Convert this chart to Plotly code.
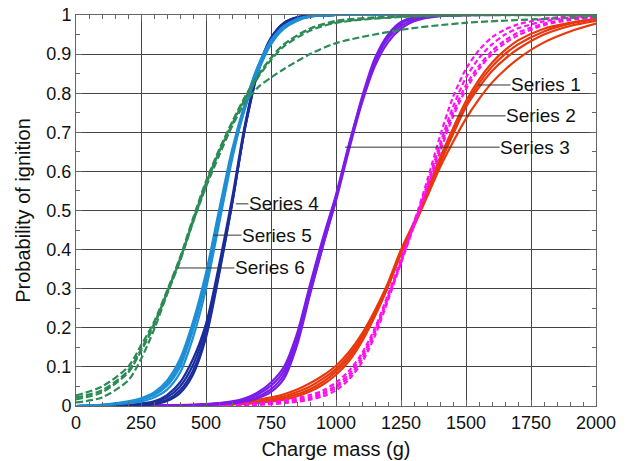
import plotly.graph_objects as go

# ---------------- data ----------------
# Series 1 (red, solid)
s1_x = [0, 500, 600, 700, 800, 850, 900, 950, 1000, 1050, 1100, 1150, 1200, 1250, 1300, 1350,
        1400, 1450, 1500, 1550, 1600, 1650, 1700, 1800, 1900, 2000]
s1_a = [0.0, 0.004, 0.008, 0.016, 0.03, 0.042, 0.058, 0.078, 0.103, 0.138, 0.185, 0.245, 0.315, 0.4,
        0.47, 0.55, 0.635, 0.71, 0.78, 0.835, 0.878, 0.91, 0.935, 0.965, 0.98, 0.99]
s1_b = [0.0, 0.003, 0.006, 0.012, 0.025, 0.036, 0.05, 0.07, 0.095, 0.13, 0.178, 0.24, 0.31, 0.395,
        0.465, 0.54, 0.62, 0.695, 0.765, 0.815, 0.857, 0.888, 0.913, 0.95, 0.972, 0.985]
s1_c = [0.0, 0.003, 0.005, 0.01, 0.02, 0.03, 0.043, 0.062, 0.088, 0.123, 0.172, 0.235, 0.307, 0.39,
        0.46, 0.535, 0.61, 0.675, 0.735, 0.785, 0.827, 0.86, 0.888, 0.93, 0.958, 0.978]
s1_d = [0.0, 0.002, 0.004, 0.008, 0.016, 0.025, 0.037, 0.055, 0.08, 0.115, 0.165, 0.23, 0.305, 0.39,
        0.465, 0.545, 0.625, 0.7, 0.77, 0.825, 0.868, 0.9, 0.925, 0.958, 0.978, 0.99]

# Series 2 (magenta, dashed)
s2_x = [0, 600, 700, 800, 900, 950, 1000, 1050, 1100, 1150, 1200, 1250, 1300, 1350, 1400, 1450,
        1500, 1550, 1600, 1650, 1700, 1800, 1900, 2000]
s2_a = [0.0, 0.003, 0.007, 0.014, 0.028, 0.04, 0.06, 0.09, 0.135, 0.2, 0.285, 0.375, 0.47, 0.575,
        0.69, 0.79, 0.862, 0.91, 0.943, 0.963, 0.976, 0.99, 0.997, 1.0]
s2_b = [0.0, 0.002, 0.005, 0.011, 0.023, 0.034, 0.052, 0.082, 0.128, 0.195, 0.28, 0.37, 0.465, 0.565,
        0.67, 0.765, 0.84, 0.89, 0.925, 0.95, 0.966, 0.984, 0.994, 0.998]
s2_c = [0.0, 0.002, 0.004, 0.009, 0.02, 0.03, 0.047, 0.075, 0.12, 0.188, 0.275, 0.368, 0.463, 0.56,
        0.66, 0.75, 0.82, 0.87, 0.908, 0.935, 0.955, 0.978, 0.99, 0.996]
s2_d = [0.0, 0.001, 0.003, 0.007, 0.016, 0.025, 0.04, 0.068, 0.112, 0.18, 0.27, 0.365, 0.46, 0.555,
        0.65, 0.74, 0.81, 0.862, 0.9, 0.928, 0.948, 0.974, 0.987, 0.994]

# Series 3 (purple, solid)
s3_x = [0, 400, 500, 600, 650, 700, 750, 800, 850, 900, 950, 1000, 1050, 1100, 1150, 1200, 1250,
        1300, 1400, 2000]
s3_a = [0.0, 0.002, 0.005, 0.012, 0.02, 0.035, 0.06, 0.1, 0.185, 0.31, 0.43, 0.54, 0.67, 0.785,
        0.885, 0.945, 0.978, 0.992, 0.999, 1.0]
s3_b = [0.0, 0.001, 0.004, 0.01, 0.017, 0.03, 0.052, 0.09, 0.175, 0.3, 0.42, 0.535, 0.665, 0.78,
        0.88, 0.94, 0.972, 0.988, 0.998, 1.0]
s3_c = [0.0, 0.001, 0.003, 0.008, 0.013, 0.024, 0.043, 0.08, 0.165, 0.29, 0.41, 0.525, 0.655, 0.775,
        0.87, 0.93, 0.965, 0.984, 0.997, 1.0]
s3_d = [0.0, 0.001, 0.003, 0.007, 0.012, 0.02, 0.036, 0.07, 0.155, 0.285, 0.41, 0.53, 0.665, 0.79,
        0.89, 0.95, 0.982, 0.994, 0.999, 1.0]

# Series 4 (navy, solid)
s4_x = [0, 200, 300, 350, 400, 450, 500, 550, 600, 650, 700, 750, 800, 850, 900, 1000, 2000]
s4_a = [0.0, 0.003, 0.012, 0.028, 0.06, 0.12, 0.21, 0.36, 0.53, 0.72, 0.86, 0.94, 0.978, 0.993,
        0.998, 1.0, 1.0]
s4_b = [0.0, 0.002, 0.009, 0.022, 0.05, 0.105, 0.2, 0.35, 0.52, 0.71, 0.855, 0.938, 0.977, 0.992,
        0.998, 1.0, 1.0]
s4_c = [0.0, 0.001, 0.006, 0.016, 0.04, 0.09, 0.185, 0.34, 0.515, 0.71, 0.855, 0.94, 0.98, 0.994,
        0.999, 1.0, 1.0]
s4_d = [0.0, 0.001, 0.005, 0.013, 0.033, 0.08, 0.175, 0.335, 0.515, 0.715, 0.86, 0.942, 0.98, 0.994,
        0.999, 1.0, 1.0]

# Series 5 (light blue, solid)
s5_x = [0, 100, 200, 250, 300, 350, 400, 450, 500, 550, 600, 650, 700, 750, 800, 850, 900, 1000, 2000]
s5_a = [0.0, 0.003, 0.012, 0.02, 0.035, 0.065, 0.12, 0.215, 0.34, 0.5, 0.655, 0.775, 0.87, 0.935,
        0.97, 0.988, 0.996, 1.0, 1.0]
s5_b = [0.0, 0.002, 0.009, 0.016, 0.028, 0.052, 0.1, 0.195, 0.32, 0.485, 0.645, 0.77, 0.868, 0.935,
        0.972, 0.99, 0.997, 1.0, 1.0]
s5_c = [0.0, 0.002, 0.007, 0.012, 0.022, 0.042, 0.085, 0.175, 0.3, 0.465, 0.63, 0.765, 0.865, 0.932,
        0.97, 0.988, 0.996, 1.0, 1.0]
s5_d = [0.0, 0.003, 0.01, 0.018, 0.03, 0.058, 0.11, 0.205, 0.33, 0.49, 0.64, 0.76, 0.855, 0.925,
        0.965, 0.985, 0.995, 1.0, 1.0]

# Series 6 (green, dashed)
s6_x = [0, 100, 200, 250, 300, 350, 400, 450, 500, 550, 600, 650, 700, 750, 800, 900, 1000, 1250,
        1500, 2000]
s6_a = [0.027, 0.05, 0.1, 0.155, 0.215, 0.295, 0.38, 0.48, 0.575, 0.655, 0.725, 0.79, 0.845, 0.89,
        0.925, 0.965, 0.982, 0.996, 1.0, 1.0]
s6_b = [0.017, 0.035, 0.085, 0.14, 0.205, 0.29, 0.375, 0.475, 0.57, 0.65, 0.72, 0.785, 0.84, 0.885,
        0.92, 0.96, 0.98, 0.995, 0.999, 1.0]
s6_c = [0.009, 0.022, 0.065, 0.12, 0.195, 0.285, 0.37, 0.47, 0.565, 0.65, 0.725, 0.79, 0.845, 0.89,
        0.925, 0.965, 0.985, 0.997, 1.0, 1.0]
s6_d = [0.022, 0.04, 0.09, 0.145, 0.21, 0.29, 0.375, 0.47, 0.56, 0.64, 0.715, 0.775, 0.815, 0.84,
        0.862, 0.9, 0.928, 0.962, 0.98, 0.995]

x_ticks = [0, 250, 500, 750, 1000, 1250, 1500, 1750, 2000]
y_ticks = [0, 0.1, 0.2, 0.3, 0.4, 0.5, 0.6, 0.7, 0.8, 0.9, 1]

series_names = ["Series 1", "Series 2", "Series 3", "Series 4", "Series 5", "Series 6"]
# label anchor points (data coords)
label_x = [1546, 1450, 1035, 615, 527, 392]
label_y = [0.821, 0.742, 0.662, 0.517, 0.437, 0.353]

# ---------------- figure ----------------
groups = [
    (s1_x, [s1_a, s1_b, s1_c, s1_d], "#E8380D", "solid"),
    (s2_x, [s2_a, s2_b, s2_c, s2_d], "#FF10F0", "5px,3px"),
    (s3_x, [s3_a, s3_b, s3_c, s3_d], "#7A1DE8", "solid"),
    (s4_x, [s4_a, s4_b, s4_c, s4_d], "#1B2C9C", "solid"),
    (s5_x, [s5_a, s5_b, s5_c, s5_d], "#1E8FD5", "solid"),
    (s6_x, [s6_a, s6_b, s6_c, s6_d], "#2E8B57", "7px,3px"),
]

fig = go.Figure()
for xs, curves, col, dash in groups:
    for ys in curves:
        fig.add_trace(go.Scatter(
            x=xs, y=ys, mode="lines",
            line=dict(color=col, width=2.2, dash=dash, shape="spline", smoothing=0.8),
            showlegend=False, hoverinfo="skip"))

ann_ax = [68, 88, 190, 48, 64, 92]
for name, lx, ly, ax in zip(series_names, label_x, label_y, ann_ax):
    fig.add_annotation(x=lx, y=ly, xref="x", yref="y", text=name, showarrow=True,
                       arrowhead=0, arrowwidth=1, arrowcolor="#333", ax=ax, ay=0,
                       standoff=0, borderpad=0,
                       font=dict(size=19, color="#111", family="Liberation Sans"))

axis_common = dict(
    showline=True, linecolor="#666", linewidth=1, mirror="ticks",
    showgrid=True, gridcolor="#444", gridwidth=1,
    ticks="inside", ticklen=6, tickcolor="#666",
    zeroline=False, automargin=False,
    tickfont=dict(size=18, color="#111", family="Liberation Sans"),
)

fig.update_xaxes(range=[0, 2000], tickvals=x_ticks,
                 minor=dict(dtick=50, ticks="inside", ticklen=4, tickcolor="#666", showgrid=False),
                 title=dict(text="Charge mass (g)", standoff=10,
                            font=dict(size=20, color="#111", family="Liberation Sans")),
                 **axis_common)
fig.update_yaxes(range=[0, 1], tickvals=y_ticks,
                 minor=dict(dtick=0.05, ticks="inside", ticklen=4, tickcolor="#666", showgrid=False),
                 title=dict(text="Probability of ignition", standoff=10,
                            font=dict(size=20, color="#111", family="Liberation Sans")),
                 **axis_common)

fig.update_layout(
    width=626, height=461,
    margin=dict(l=76, r=30, t=15, b=55),
    plot_bgcolor="white", paper_bgcolor="white",
    font=dict(family="Liberation Sans"),
)

fig.write_html("out.html")
